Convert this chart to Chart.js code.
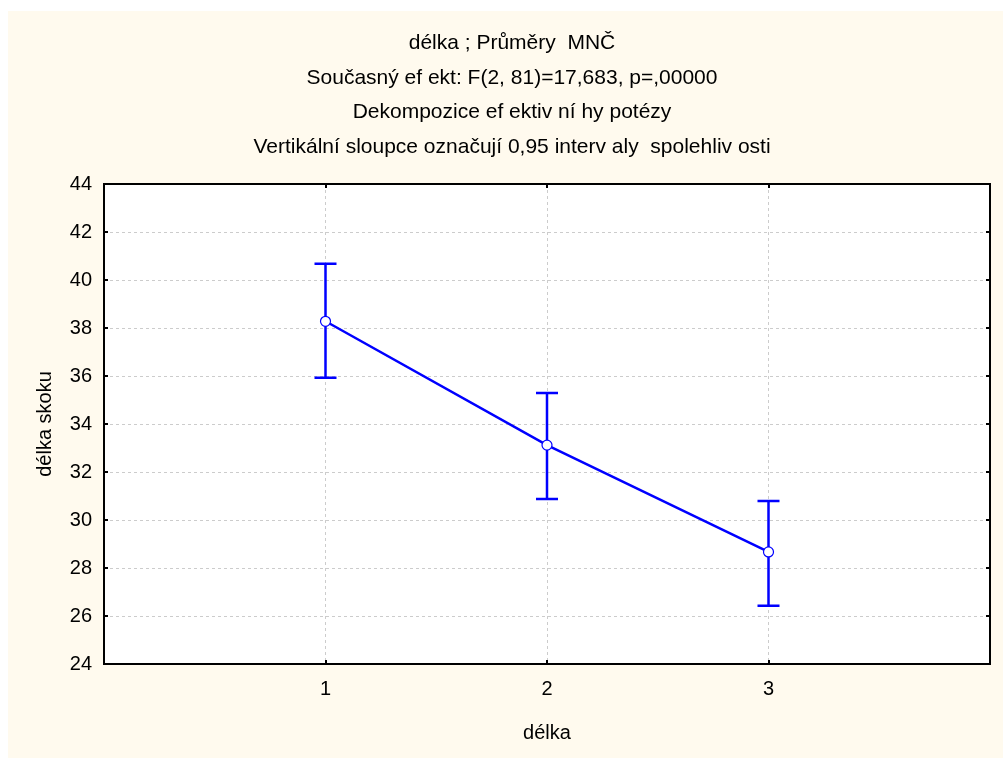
<!DOCTYPE html>
<html>
<head>
<meta charset="utf-8">
<script src="https://cdn.jsdelivr.net/npm/chart.js@4.4.1/dist/chart.umd.min.js"></script>
<style>
  html, body { margin: 0; padding: 0; background: #ffffff; }
  #wrap { width: 1003px; height: 758px; position: relative; }
</style>
</head>
<body>
<div id="wrap"><canvas id="c" width="1003" height="758"></canvas></div>
<script>
// Group levels of "délka" and their least-squares means with 0.95 confidence limits
const categories = [1, 2, 3];
const means = [38.28, 33.12, 28.67];
const ciLower = [35.93, 30.88, 26.43];
const ciUpper = [40.68, 35.29, 30.79];
const yTicks = [24, 26, 28, 30, 32, 34, 36, 38, 40, 42, 44];
const titleLines = [
  'délka ; Průměry  MNČ',
  'Současný ef ekt: F(2, 81)=17,683, p=,00000',
  'Dekompozice ef ektiv ní hy potézy',
  'Vertikální sloupce označují 0,95 interv aly  spolehliv osti'
];
const xAxisTitle = 'délka';
const yAxisTitle = 'délka skoku';

const FONT = 'Liberation Sans, Arial, sans-serif';
const BLUE = '#0000ff';
const CREAM = '#fffaee';

const points = categories.map((c, i) => ({ x: c, y: means[i] }));

// Page background, titles, frame, inward tick marks and error bars
const decor = {
  id: 'decor',
  beforeDraw(chart) {
    const ctx = chart.ctx;
    const a = chart.chartArea;
    ctx.save();
    ctx.fillStyle = CREAM;
    ctx.fillRect(8, 11, chart.width - 8, chart.height - 11);
    ctx.fillStyle = '#ffffff';
    ctx.fillRect(a.left, a.top, a.right - a.left, a.bottom - a.top);
    // title block
    ctx.fillStyle = '#000000';
    ctx.font = '21px ' + FONT;
    ctx.textAlign = 'center';
    ctx.textBaseline = 'middle';
    const cx = 512;
    titleLines.forEach((t, i) => ctx.fillText(t, cx, 43 + i * 34.8));
    ctx.restore();
  },
  afterDatasetsDraw(chart) {
    const ctx = chart.ctx;
    const a = chart.chartArea;
    const xs = chart.scales.x, ys = chart.scales.y;
    ctx.save();
    // confidence interval whiskers
    ctx.strokeStyle = BLUE;
    ctx.lineWidth = 2.5;
    categories.forEach((c, i) => {
      const px = xs.getPixelForValue(c);
      const top = ys.getPixelForValue(ciUpper[i]);
      const bot = ys.getPixelForValue(ciLower[i]);
      const m = ys.getPixelForValue(means[i]);
      ctx.beginPath();
      ctx.moveTo(px, top); ctx.lineTo(px, m - 5);
      ctx.moveTo(px, m + 5); ctx.lineTo(px, bot);
      ctx.moveTo(px - 11, top); ctx.lineTo(px + 11, top);
      ctx.moveTo(px - 11, bot); ctx.lineTo(px + 11, bot);
      ctx.stroke();
    });
    // frame
    ctx.strokeStyle = '#000000';
    ctx.lineWidth = 2;
    ctx.strokeRect(a.left, a.top, a.right - a.left, a.bottom - a.top);
    // inward ticks
    ctx.beginPath();
    categories.forEach(c => {
      const px = Math.round(xs.getPixelForValue(c));
      ctx.moveTo(px, a.top); ctx.lineTo(px, a.top + 4);
      ctx.moveTo(px, a.bottom); ctx.lineTo(px, a.bottom - 4);
    });
    yTicks.forEach(v => {
      const py = Math.round(ys.getPixelForValue(v));
      ctx.moveTo(a.left, py); ctx.lineTo(a.left + 4, py);
      ctx.moveTo(a.right, py); ctx.lineTo(a.right - 4, py);
    });
    ctx.stroke();
    ctx.restore();
  }
};

new Chart(document.getElementById('c'), {
  type: 'line',
  data: {
    datasets: [{
      data: points,
      borderColor: BLUE,
      borderWidth: 2.5,
      backgroundColor: '#ffffff',
      pointBackgroundColor: '#ffffff',
      pointBorderColor: BLUE,
      pointBorderWidth: 1.2,
      pointRadius: 5,
      tension: 0,
      clip: false
    }]
  },
  options: {
    responsive: false,
    animation: false,
    devicePixelRatio: 1,
    layout: { padding: { top: 184, right: 13, bottom: 0, left: 0 } },
    plugins: { legend: { display: false }, title: { display: false }, tooltip: { enabled: false } },
    scales: {
      x: {
        type: 'linear',
        min: 0, max: 4,
        afterFit(s) { s.height = 94; },
        afterBuildTicks(s) { s.ticks = categories.map(v => ({ value: v })); },
        ticks: { color: '#000', font: { family: FONT, size: 20 }, padding: 13 },
        grid: { color: '#cccccc', drawTicks: false, lineWidth: 1 },
        border: { display: false, dash: [3, 3] },
        title: { display: true, text: xAxisTitle, color: '#000', font: { family: FONT, size: 20 }, padding: { top: 0, bottom: 13 } }
      },
      y: {
        type: 'linear',
        min: 24, max: 44,
        afterFit(s) { s.width = 104; },
        afterBuildTicks(s) { s.ticks = yTicks.map(v => ({ value: v })); },
        ticks: { color: '#000', font: { family: FONT, size: 20 }, padding: 12 },
        grid: { color: '#cccccc', drawTicks: false, lineWidth: 1 },
        border: { display: false, dash: [3, 3] },
        title: { display: true, text: yAxisTitle, color: '#000', font: { family: FONT, size: 20 }, padding: { top: 33, bottom: 0 } }
      }
    }
  },
  plugins: [decor]
});
</script>
</body>
</html>
